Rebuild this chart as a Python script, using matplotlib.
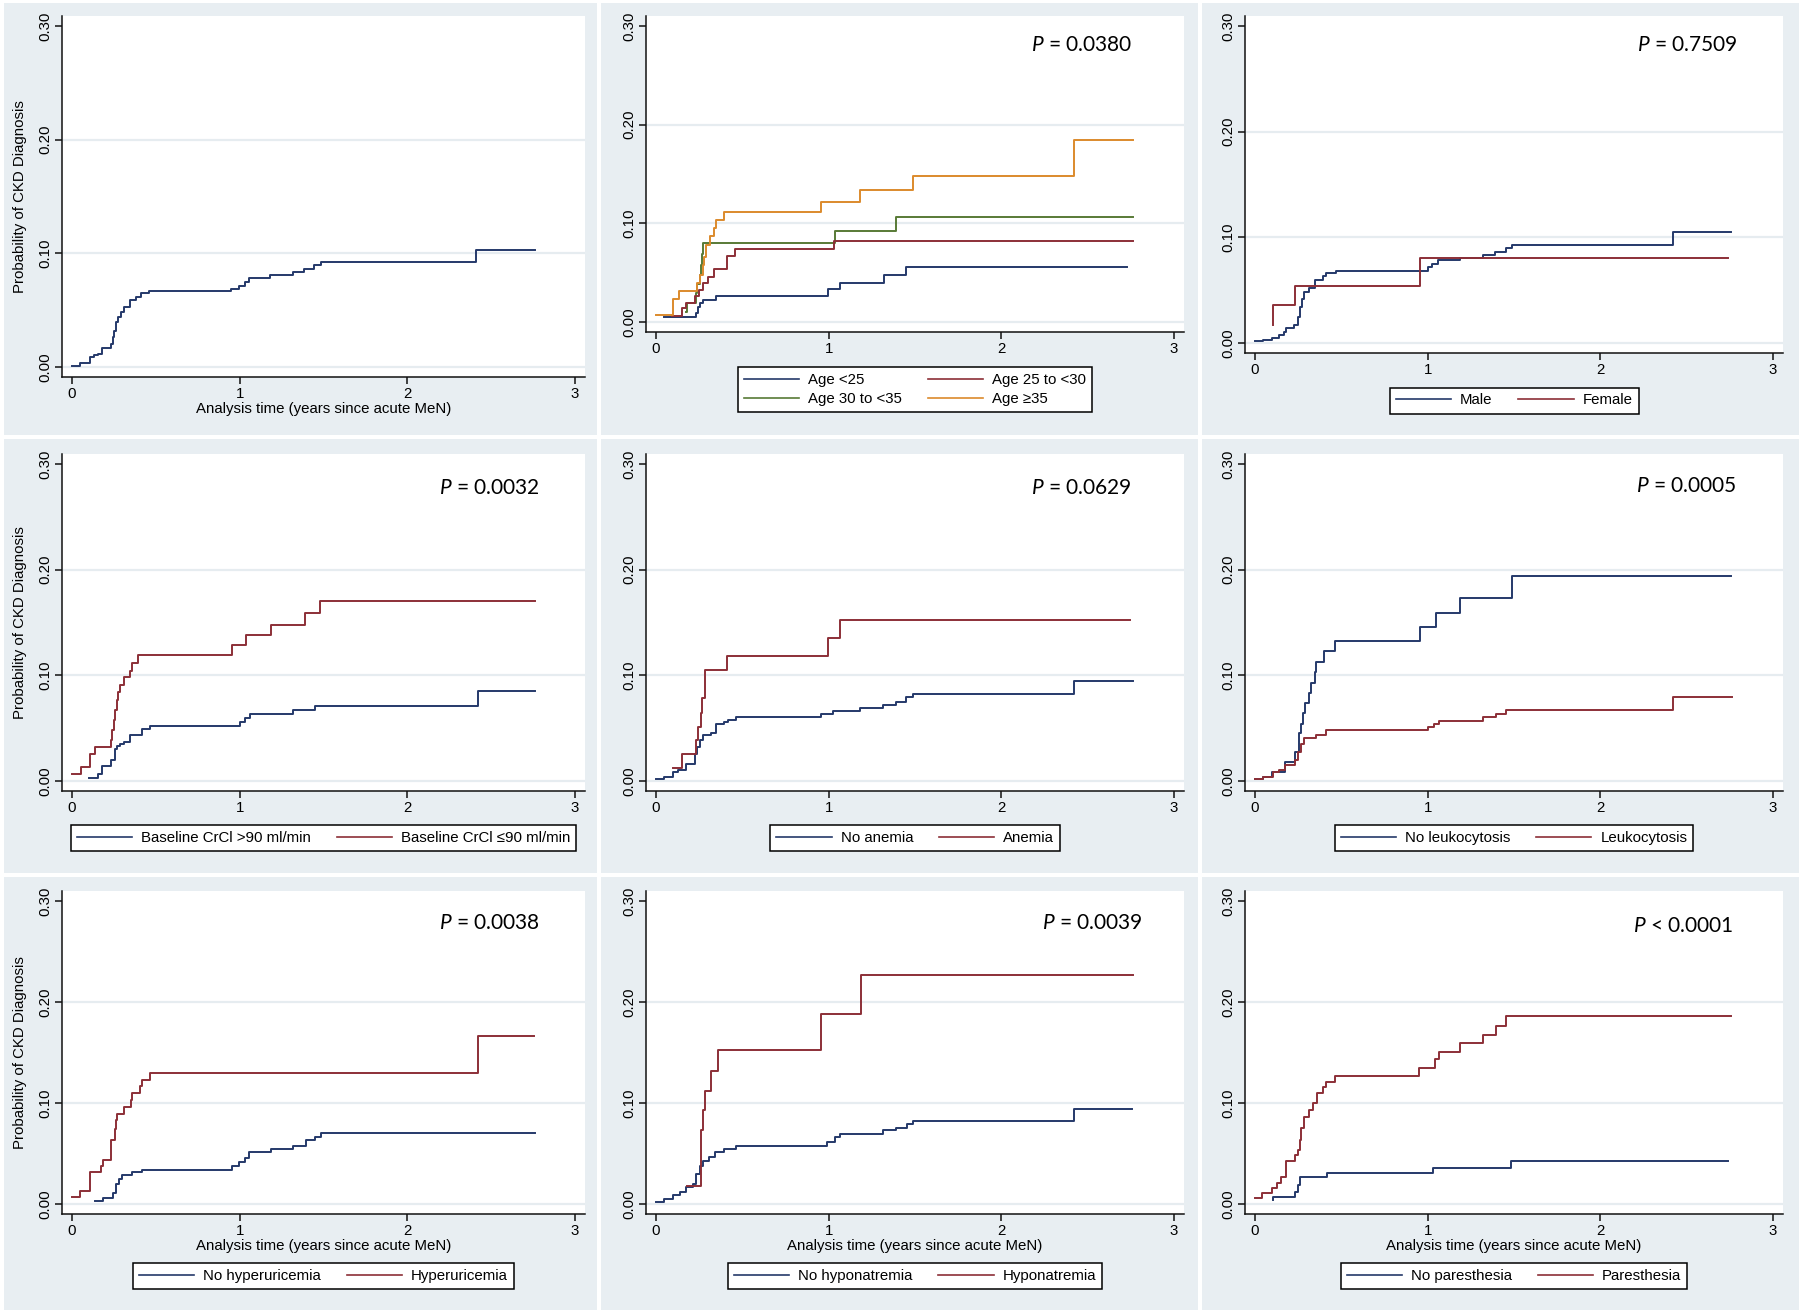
import matplotlib
matplotlib.use("Agg")
import matplotlib.pyplot as plt
from matplotlib.patches import Rectangle
from matplotlib.lines import Line2D

plt.rcParams['font.family'] = ['Liberation Sans', 'DejaVu Sans']
plt.rcParams['mathtext.fontset'] = 'custom'
plt.rcParams['mathtext.it'] = 'Lato:italic'
plt.rcParams['mathtext.rm'] = 'Lato'

## Donnees (temps en annees, probabilite cumulee)

# toute la cohorte
all_t = [0, 0.05, 0.107, 0.13, 0.153, 0.176, 0.233, 0.244, 0.251, 0.26, 0.272, 0.29, 0.313, 0.347,
         0.381, 0.411, 0.461, 0.951, 0.997, 1.031, 1.054, 1.18, 1.316, 1.385, 1.442, 1.483, 2.412, 2.761]
all_p = [0.0009, 0.0035, 0.0088, 0.0103, 0.0117, 0.017, 0.0205, 0.026, 0.032, 0.040, 0.044, 0.048, 0.053,
         0.059, 0.062, 0.065, 0.067, 0.069, 0.0713, 0.0748, 0.0787, 0.0807, 0.0837, 0.0866, 0.0895, 0.0925,
         0.1033, 0.1033]

# age
age1_t = [0.046, 0.232, 0.245, 0.255, 0.27, 0.35, 0.998, 1.064, 1.319, 1.448, 2.73]
age1_p = [0.0055, 0.0095, 0.015, 0.019, 0.022, 0.0262, 0.0331, 0.0397, 0.0481, 0.0559, 0.0559]
age2_t = [0.095, 0.15, 0.175, 0.228, 0.25, 0.275, 0.30, 0.335, 0.41, 0.46, 1.03, 2.763]
age2_p = [0.0062, 0.0139, 0.019, 0.026, 0.032, 0.040, 0.046, 0.0534, 0.0665, 0.074, 0.0824, 0.0824]
age3_t = [0.174, 0.18, 0.232, 0.24, 0.252, 0.26, 0.265, 0.274, 1.036, 1.392, 2.763]
age3_p = [0.0105, 0.019, 0.029, 0.039, 0.048, 0.058, 0.069, 0.0797, 0.0926, 0.1068, 0.1068]
age4_t = [0, 0.10, 0.135, 0.237, 0.255, 0.27, 0.28, 0.29, 0.315, 0.335, 0.35, 0.395, 0.955, 1.18,
          1.486, 2.419, 2.763]
age4_p = [0.0071, 0.0233, 0.0314, 0.040, 0.048, 0.058, 0.066, 0.078, 0.087, 0.095, 0.103, 0.1115,
          0.122, 0.134, 0.1475, 0.1844, 0.1844]

# sexe
male_t = [0, 0.049, 0.1, 0.137, 0.166, 0.182, 0.226, 0.248, 0.26, 0.27, 0.286, 0.315, 0.348, 0.392,
          0.414, 0.47, 1.0, 1.024, 1.057, 1.19, 1.323, 1.39, 1.456, 1.489, 2.42, 2.759]
male_p = [0.0019, 0.0032, 0.0047, 0.0073, 0.0104, 0.0146, 0.017, 0.025, 0.034, 0.042, 0.048, 0.0525,
          0.060, 0.063, 0.0665, 0.068, 0.072, 0.075, 0.0785, 0.080, 0.0832, 0.0864, 0.0896, 0.0927,
          0.1054, 0.1054]
female_t = [0.104, 0.107, 0.233, 0.957, 2.741]
female_p = [0.0168, 0.0358, 0.0538, 0.080, 0.080]

# CrCl de base
crcl_hi_t = [0.103, 0.157, 0.177, 0.234, 0.256, 0.266, 0.286, 0.31, 0.345, 0.415, 0.464, 1.0, 1.03,
             1.063, 1.321, 1.451, 2.42, 2.761]
crcl_hi_p = [0.0031, 0.0063, 0.0145, 0.0199, 0.030, 0.0331, 0.035, 0.0372, 0.0436, 0.0492, 0.0524,
             0.0556, 0.060, 0.0631, 0.0671, 0.0712, 0.0854, 0.0854]
crcl_lo_t = [0, 0.052, 0.107, 0.137, 0.23, 0.24, 0.25, 0.256, 0.266, 0.276, 0.286, 0.311, 0.345, 0.355,
             0.395, 0.956, 1.04, 1.185, 1.39, 1.48, 2.761]
crcl_lo_p = [0.0066, 0.0129, 0.0256, 0.0319, 0.0388, 0.0483, 0.0578, 0.0672, 0.0767, 0.0846, 0.091,
             0.0982, 0.1042, 0.1115, 0.1194, 0.1288, 0.1383, 0.1478, 0.1589, 0.1706, 0.1706]

# anemie
no_anem_t = [0, 0.047, 0.1, 0.129, 0.173, 0.228, 0.24, 0.255, 0.273, 0.317, 0.35, 0.395, 0.417, 0.461,
             0.956, 1.027, 1.182, 1.315, 1.392, 1.448, 1.488, 2.419, 2.763]
no_anem_p = [0.0016, 0.0038, 0.0085, 0.0108, 0.0165, 0.026, 0.032, 0.0386, 0.0434, 0.0456, 0.0538,
             0.056, 0.058, 0.0608, 0.0633, 0.0661, 0.0687, 0.0718, 0.075, 0.0791, 0.0823, 0.0946, 0.0946]
anem_t = [0.1, 0.151, 0.233, 0.245, 0.258, 0.268, 0.284, 0.41, 0.998, 1.064, 2.745]
anem_p = [0.0127, 0.0253, 0.0386, 0.051, 0.0646, 0.0782, 0.105, 0.1187, 0.1358, 0.1525, 0.1525]

# leucocytose
no_leuk_t = [0, 0.049, 0.1, 0.175, 0.233, 0.255, 0.264, 0.276, 0.292, 0.31, 0.326, 0.348, 0.353, 0.397,
             0.463, 0.957, 1.046, 1.19, 1.489, 2.759]
no_leuk_p = [0.0016, 0.0038, 0.0085, 0.018, 0.027, 0.045, 0.0544, 0.0646, 0.074, 0.083, 0.093, 0.1035,
             0.113, 0.1234, 0.1329, 0.1456, 0.159, 0.1731, 0.194, 0.194]
leuk_t = [0, 0.049, 0.104, 0.137, 0.175, 0.233, 0.248, 0.264, 0.281, 0.355, 0.41, 1.0, 1.035, 1.068,
          1.323, 1.394, 1.451, 2.42, 2.763]
leuk_p = [0.0016, 0.0038, 0.0085, 0.0101, 0.0149, 0.0196, 0.0275, 0.0354, 0.0411, 0.0434, 0.0481,
          0.0513, 0.0544, 0.0566, 0.0601, 0.0633, 0.0671, 0.0791, 0.0791]

# hyperuricemie
no_hyper_t = [0.137, 0.182, 0.244, 0.26, 0.278, 0.296, 0.358, 0.415, 0.957, 0.995, 1.03, 1.057, 1.185,
              1.321, 1.394, 1.451, 1.485, 2.761]
no_hyper_p = [0.0026, 0.006, 0.0106, 0.0199, 0.0248, 0.0291, 0.0321, 0.0341, 0.0374, 0.0414, 0.0457,
              0.0513, 0.0546, 0.0579, 0.0629, 0.0662, 0.0702, 0.0702]
hyper_t = [0, 0.05, 0.107, 0.175, 0.182, 0.232, 0.255, 0.262, 0.267, 0.312, 0.35, 0.355, 0.403, 0.419,
           0.467, 2.419, 2.756]
hyper_p = [0.0066, 0.0132, 0.0315, 0.0381, 0.044, 0.063, 0.0745, 0.0828, 0.0894, 0.096, 0.1026, 0.110,
           0.1166, 0.1225, 0.1298, 0.1666, 0.1666]

# hyponatremie
no_hypo_t = [0, 0.047, 0.1, 0.14, 0.173, 0.217, 0.233, 0.255, 0.273, 0.306, 0.344, 0.395, 0.461, 0.993,
             1.038, 1.067, 1.315, 1.392, 1.452, 1.488, 2.419, 2.756]
no_hypo_p = [0.0023, 0.005, 0.0093, 0.0116, 0.0166, 0.0199, 0.0298, 0.038, 0.043, 0.0464, 0.0513,
             0.0546, 0.0579, 0.0613, 0.0662, 0.0695, 0.0728, 0.0755, 0.0795, 0.0821, 0.0944, 0.0944]
hypo_t = [0.18, 0.262, 0.273, 0.284, 0.317, 0.357, 0.956, 1.186, 2.763]
hypo_p = [0.0182, 0.0728, 0.0927, 0.112, 0.1318, 0.1523, 0.1877, 0.2268, 0.2268]

# paresthesie
no_par_t = [0.103, 0.106, 0.232, 0.25, 0.258, 0.415, 1.03, 1.482, 2.741]
no_par_p = [0.004, 0.0073, 0.0115, 0.019, 0.027, 0.031, 0.0358, 0.043, 0.043]
par_t = [0, 0.042, 0.1, 0.13, 0.15, 0.177, 0.232, 0.247, 0.26, 0.265, 0.286, 0.315, 0.338, 0.357, 0.396,
         0.411, 0.463, 0.951, 1.042, 1.068, 1.19, 1.323, 1.394, 1.451, 2.759]
par_p = [0.0056, 0.0112, 0.0162, 0.0211, 0.0271, 0.0426, 0.0485, 0.0535, 0.0634, 0.075, 0.0865, 0.0931,
         0.0998, 0.1096, 0.1155, 0.1211, 0.1267, 0.135, 0.1434, 0.1507, 0.159, 0.1672, 0.1765, 0.1864,
         0.1864]

p_values = ["", "$P$ = 0.0380", "$P$ = 0.7509",
            "$P$ = 0.0032", "$P$ = 0.0629", "$P$ = 0.0005",
            "$P$ = 0.0038", "$P$ = 0.0039", "$P$ < 0.0001"]

y_ticks = [0, 0.1, 0.2, 0.3]
y_ticklabels = ["0.00", "0.10", "0.20", "0.30"]
x_ticks = [0, 1, 2, 3]

ylab = "Probability of CKD Diagnosis"
xlab = "Analysis time (years since acute MeN)"

NAVY = "#25396A"
MAROON = "#8C2F37"
GREEN = "#587A36"
ORANGE = "#DC8A2C"
BG = "#E8EEF2"
GRID = "#E6ECF0"

# courbes par panneau : (t, p, couleur, etiquette)
panels = [
    [(all_t, all_p, NAVY, None)],
    [(age1_t, age1_p, NAVY, "Age <25"), (age3_t, age3_p, GREEN, "Age 30 to <35"),
     (age2_t, age2_p, MAROON, "Age 25 to <30"), (age4_t, age4_p, ORANGE, "Age \u226535")],
    [(male_t, male_p, NAVY, "Male"), (female_t, female_p, MAROON, "Female")],
    [(crcl_hi_t, crcl_hi_p, NAVY, "Baseline CrCl >90 ml/min"),
     (crcl_lo_t, crcl_lo_p, MAROON, "Baseline CrCl \u226490 ml/min")],
    [(no_anem_t, no_anem_p, NAVY, "No anemia"), (anem_t, anem_p, MAROON, "Anemia")],
    [(no_leuk_t, no_leuk_p, NAVY, "No leukocytosis"), (leuk_t, leuk_p, MAROON, "Leukocytosis")],
    [(no_hyper_t, no_hyper_p, NAVY, "No hyperuricemia"), (hyper_t, hyper_p, MAROON, "Hyperuricemia")],
    [(no_hypo_t, no_hypo_p, NAVY, "No hyponatremia"), (hypo_t, hypo_p, MAROON, "Hyponatremia")],
    [(no_par_t, no_par_p, NAVY, "No paresthesia"), (par_t, par_p, MAROON, "Paresthesia")],
]

## Mise en page (pixels)
W, H = 1800, 1314
col_px = [(72, 575), (656, 1174), (1255, 1773)]          # x des graduations 0 et 3
# (y de 0.00, y de 0.30) par panneau
row_px = [(367, 26), (322, 26), (343, 26),
          (781, 464), (781, 464), (781, 464),
          (1204, 901), (1204, 901), (1204, 901)]
legend_y = [None, 389.5, 400.5, 838, 838, 838, 1276, 1276, 1276]
p_pos = [None, (1132, 45), (1738, 45), (540, 488), (1132, 488), (1737, 486),
         (540, 923), (1143, 923), (1734, 926)]
bg_cols = [(4, 597), (601, 1198), (1202, 1799)]
bg_rows = [(3, 435), (439, 873), (877, 1310)]

fig = plt.figure(figsize=(W / 100, H / 100), dpi=100)
fig.patch.set_facecolor("white")

for (t0, b0) in bg_rows:
    for (l0, r0) in bg_cols:
        fig.add_artist(Rectangle((l0 / W, 1 - b0 / H), (r0 - l0) / W, (b0 - t0) / H,
                                 transform=fig.transFigure, facecolor=BG, edgecolor="none", zorder=-5))

FS = 10.8

for k in range(9):
    col = k % 3
    row = k // 3
    x0, x3 = col_px[col]
    y0, y30 = row_px[k]
    ppx = (x3 - x0) / 3
    ppy = (y0 - y30) / 0.3
    left, right = x0 - 10, x3 + 10
    top, bottom = y30 - 10, y0 + 10
    ax = fig.add_axes([left / W, 1 - bottom / H, (right - left) / W, (bottom - top) / H])
    ax.set_facecolor("white")
    ax.set_xlim(-10 / ppx, 3 + 10 / ppx)
    ax.set_ylim(-10 / ppy, 0.3 + 10 / ppy)

    for v in y_ticks[:-1]:
        ax.axhline(v, color=GRID, lw=1.6, zorder=1)

    handles = []
    labels = []
    for (t, p, c, lab) in panels[k]:
        ax.step(t, p, where="post", color=c, lw=1.4, zorder=3)
        if lab is not None:
            handles.append(Line2D([], [], color=c, lw=1.2))
            labels.append(lab)

    for s in ["top", "right"]:
        ax.spines[s].set_visible(False)
    for s in ["left", "bottom"]:
        ax.spines[s].set_linewidth(1.1)
        ax.spines[s].set_color("#111111")

    ax.set_xticks(x_ticks)
    ax.set_yticks(y_ticks, labels=y_ticklabels, rotation=90, va="center")
    ax.tick_params(direction="out", length=4.7, width=1.1, color="#111111",
                   labelsize=FS, pad=2.5, labelcolor="black")

    if col == 0:
        ax.set_ylabel(ylab, fontsize=FS, labelpad=8)
    if k == 0 or row == 2:
        ax.set_xlabel(xlab, fontsize=FS, labelpad=0.5)

    if handles:
        cx = (left + right) / 2
        leg = ax.legend(handles, labels, loc="center", ncol=2,
                        bbox_to_anchor=(cx / W, 1 - legend_y[k] / H), bbox_transform=fig.transFigure,
                        frameon=True, fancybox=False, framealpha=1, edgecolor="black",
                        fontsize=FS, handlelength=3.7, handletextpad=0.6, columnspacing=1.7,
                        borderpad=0.4, labelspacing=0.3)
        leg.get_frame().set_linewidth(1.1)

    if p_values[k]:
        px, py = p_pos[k]
        fig.text(px / W, 1 - py / H, p_values[k], ha="right", va="center",
                 fontsize=15, family="Lato")

fig.savefig("out.png", dpi=100)
